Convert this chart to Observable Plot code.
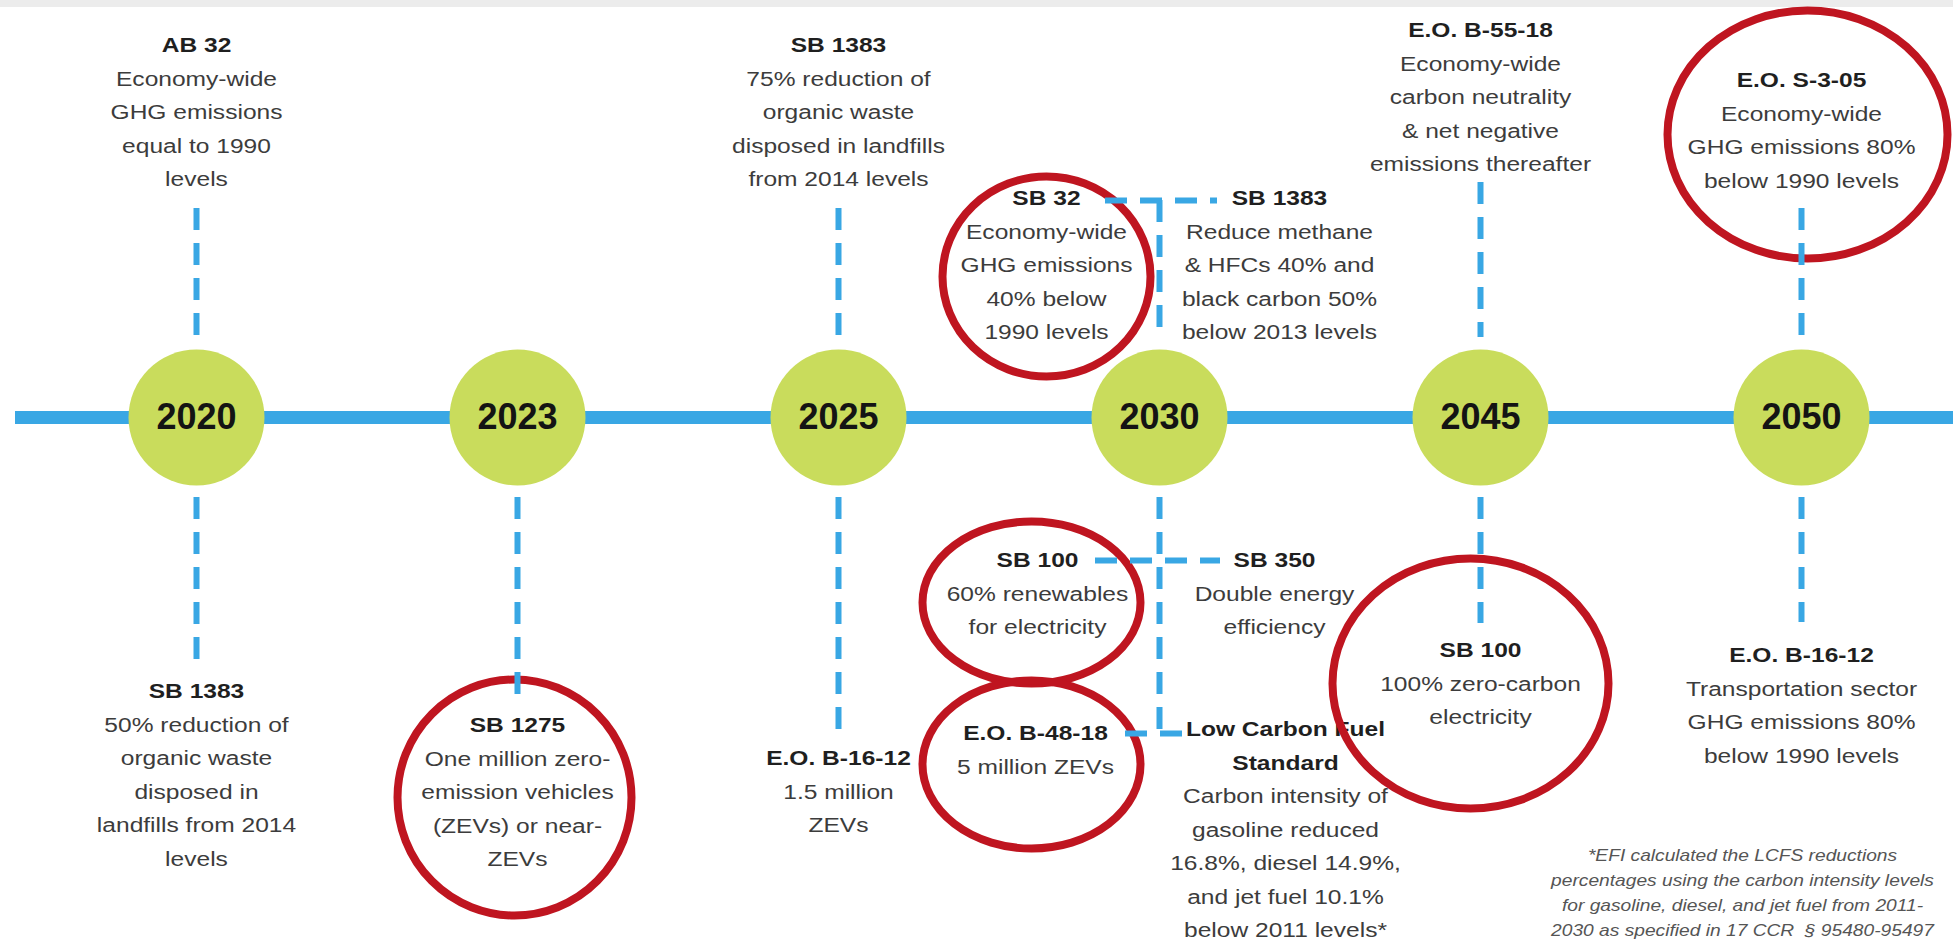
<!DOCTYPE html>
<html>
<head>
<meta charset="utf-8">
<script src="https://cdn.jsdelivr.net/npm/d3@7"></script>
<script src="https://cdn.jsdelivr.net/npm/@observablehq/plot@0.6"></script>
<style>
  html, body { margin: 0; padding: 0; background: #ffffff; }
  #chart { width: 1953px; height: 943px; overflow: hidden; }
</style>
</head>
<body>
<div id="chart"></div>
<script>
// ---------------- DATA ----------------
const years = ["2020", "2023", "2025", "2030", "2045", "2050"];

const policyYear = ["2020", "2020", "2023", "2025", "2025", "2030", "2030", "2030", "2030", "2030", "2030", "2045", "2045", "2050", "2050"];

const policyName = [
  "AB 32", "SB 1383", "SB 1275", "SB 1383", "E.O. B-16-12",
  "SB 32", "SB 1383", "SB 100", "SB 350", "E.O. B-48-18",
  "Low Carbon Fuel\nStandard", "E.O. B-55-18", "SB 100", "E.O. S-3-05", "E.O. B-16-12"
];

const policyGoal = [
  "Economy-wide\nGHG emissions\nequal to 1990\nlevels",
  "50% reduction of\norganic waste\ndisposed in\nlandfills from 2014\nlevels",
  "One million zero-\nemission vehicles\n(ZEVs) or near-\nZEVs",
  "75% reduction of\norganic waste\ndisposed in landfills\nfrom 2014 levels",
  "1.5 million\nZEVs",
  "Economy-wide\nGHG emissions\n40% below\n1990 levels",
  "Reduce methane\n& HFCs 40% and\nblack carbon 50%\nbelow 2013 levels",
  "60% renewables\nfor electricity",
  "Double energy\nefficiency",
  "5 million ZEVs",
  "Carbon intensity of\ngasoline reduced\n16.8%, diesel 14.9%,\nand jet fuel 10.1%\nbelow 2011 levels*",
  "Economy-wide\ncarbon neutrality\n& net negative\nemissions thereafter",
  "100% zero-carbon\nelectricity",
  "Economy-wide\nGHG emissions 80%\nbelow 1990 levels",
  "Transportation sector\nGHG emissions 80%\nbelow 1990 levels"
];

// policies circled in red in the original
const highlighted = [false, false, true, false, false, true, false, true, false, true, false, false, true, true, false];

const footnoteLines = [
  "*EFI calculated the LCFS reductions",
  "percentages using the carbon intensity levels",
  "for gasoline, diesel, and jet fuel from 2011-",
  "2030 as specified in 17 CCR  \u00a7 95480-95497"
];

// ---------------- LAYOUT (pixels, kept apart from the data) ----------------
const W = 1953, H = 943;
const X0 = 196, SLOT = 321;          // centre of first year, spacing between years
const LINE_Y = 417;                  // timeline
const STEP = 33.5;                   // text line spacing
const FONT = "'Liberation Sans', Arial, Helvetica, sans-serif";
const BLUE = "#39a7e4", GREEN = "#c9dc5c", RED = "#bf1520";
const STRETCH = 1.17, FOOT_STRETCH = 1.2;

// per policy: horizontal offset from the year centre, y of first line, stem [y1,y2]
const place = [
  {dx: 0,    y: 45,  stem: [208, 337]},
  {dx: 0,    y: 691, stem: [497, 660]},
  {dx: 0,    y: 725, stem: [497, 695]},
  {dx: 0,    y: 45,  stem: [208, 337]},
  {dx: 0,    y: 758, stem: [497, 737]},
  {dx: -113, y: 198, stem: null},
  {dx: 120,  y: 198, stem: null},
  {dx: -122, y: 560, stem: null},
  {dx: 115,  y: 560, stem: null},
  {dx: -124, y: 733, stem: null},
  {dx: 126,  y: 729, stem: null},
  {dx: 0,    y: 30,  stem: [182, 337]},
  {dx: 0,    y: 650, stem: [497, 623]},
  {dx: 0,    y: 80,  stem: [208, 337]},
  {dx: 0,    y: 655, stem: [497, 622]}
];
// red ellipses for highlighted policies
const ringPlace = {
  2:  {dx: -3,   cy: 797, rx: 117, ry: 118},
  5:  {dx: -113, cy: 276, rx: 104, ry: 100},
  7:  {dx: -128, cy: 602, rx: 109, ry: 81},
  9:  {dx: -128, cy: 764, rx: 109, ry: 84},
  12: {dx: -10,  cy: 683, rx: 138, ry: 125},
  13: {dx: 6,    cy: 134, rx: 140, ry: 124}
};
// extra connectors around 2030
const hub2030 = {
  vertical: [[200, 337], [497, 733]],
  horizontal: [{y: 200, dx1: -54, dx2: 58}, {y: 560, dx1: -64, dx2: 61}, {y: 733, dx1: -34, dx2: 36}]
};
const footPlace = {x: 1742, y: 855, step: 25};

// ---------------- BUILD TABLES ----------------
const slot = (year, dx = 0) => years.indexOf(year) + dx / SLOT;

const titleRows = [], bodyRows = [], stems = [], hrules = [], rings = [];
policyName.forEach((name, i) => {
  const p = place[i];
  const x = slot(policyYear[i], p.dx);
  const tl = name.split("\n");
  const bl = policyGoal[i].split("\n");
  tl.forEach((t, k) => titleRows.push({x, y: p.y + k * STEP, text: t}));
  bl.forEach((t, k) => bodyRows.push({x, y: p.y + (tl.length + k) * STEP, text: t}));
  if (p.stem) stems.push({x: slot(policyYear[i]), y1: p.stem[0], y2: p.stem[1]});
  if (highlighted[i]) {
    const r = ringPlace[i];
    rings.push({x: slot(policyYear[i], r.dx), y: r.cy, rx: r.rx, ry: r.ry});
  }
});
hub2030.vertical.forEach(v => stems.push({x: slot("2030"), y1: v[0], y2: v[1]}));
hub2030.horizontal.forEach(h => hrules.push({y: h.y, x1: slot("2030", h.dx1), x2: slot("2030", h.dx2)}));
const footRows = footnoteLines.map((t, k) => ({x: (footPlace.x - X0) / SLOT, y: footPlace.y + k * footPlace.step, text: t}));

const R0 = 50; // base radius of ring dots before stretching into ellipses

const chart = Plot.plot({
  width: W,
  height: H,
  margin: 0,
  x: {type: "linear", domain: [0, 5], range: [X0, X0 + 5 * SLOT], axis: null},
  y: {type: "linear", domain: [0, H], range: [0, H], axis: null},
  style: {background: "#ffffff", fontFamily: FONT},
  marks: [
    Plot.ruleY([3], {stroke: "#ececec", strokeWidth: 7}),
    Plot.ruleY([LINE_Y], {stroke: BLUE, strokeWidth: 13, insetLeft: 15}),
    Plot.dot(years, {x: (d, i) => i, y: () => LINE_Y, r: 68, fill: GREEN, stroke: "none"}),
    Plot.text(years, {x: (d, i) => i, y: () => LINE_Y, text: d => d, fontSize: 36, fontWeight: "bold", fill: "#141414"}),
    Plot.text(titleRows, {x: "x", y: "y", text: "text", fontSize: 21, fontWeight: "bold", fill: "#1f1f1f", ariaDescription: "stretch-title"}),
    Plot.text(bodyRows, {x: "x", y: "y", text: "text", fontSize: 21, fill: "#3c3c3c", ariaDescription: "stretch-body"}),
    Plot.text(footRows, {x: "x", y: "y", text: "text", fontSize: 16, fontStyle: "italic", fill: "#555555", ariaDescription: "stretch-foot"}),
    Plot.dot(rings, {x: "x", y: "y", r: R0, fill: "none", stroke: RED, strokeWidth: 8, ariaDescription: "ring"}),
    Plot.ruleX(stems, {x: "x", y1: "y1", y2: "y2", stroke: BLUE, strokeWidth: 6, strokeDasharray: "22,13"}),
    Plot.ruleY(hrules, {y: "y", x1: "x1", x2: "x2", stroke: BLUE, strokeWidth: 6, strokeDasharray: "22,13"})
  ]
});

// locate a mark group: by aria-description, else by type order
function markGroup(desc, type, nth) {
  let g = chart.querySelector(`g[aria-description="${desc}"]`);
  if (!g) {
    const all = chart.querySelectorAll(`g[aria-label="${type}"]`);
    g = all[nth] || null;
  }
  return g;
}

// stretch text horizontally (the source artwork's lettering is wide)
function stretch(g, s) {
  if (!g) return;
  g.querySelectorAll("text").forEach(t => {
    const tr = t.getAttribute("transform");
    if (tr) t.setAttribute("transform", tr + ` scale(${s},1)`);
    else {
      const x = +t.getAttribute("x") || 0, y = +t.getAttribute("y") || 0;
      t.removeAttribute("x"); t.removeAttribute("y");
      t.setAttribute("transform", `translate(${x},${y}) scale(${s},1)`);
    }
  });
}
stretch(markGroup("stretch-title", "text", 1), STRETCH);
stretch(markGroup("stretch-body", "text", 2), STRETCH);
stretch(markGroup("stretch-foot", "text", 3), FOOT_STRETCH);

// turn ring dots into ellipses
const ringG = markGroup("ring", "dot", 1);
if (ringG) {
  ringG.querySelectorAll("circle").forEach((c, k) => {
    const e = rings[k];
    let cx = c.getAttribute("cx"), cy = c.getAttribute("cy");
    let pre = c.getAttribute("transform") || "";
    if (cx === null) {
      const m = /translate\(\s*([-\d.e]+)[ ,]+([-\d.e]+)/.exec(pre);
      cx = m ? +m[1] : 0; cy = m ? +m[2] : 0;
      c.setAttribute("transform", `translate(${cx},${cy}) scale(${e.rx / R0},${e.ry / R0})`);
    } else {
      cx = +cx; cy = +cy;
      c.setAttribute("transform", `translate(${cx},${cy}) scale(${e.rx / R0},${e.ry / R0}) translate(${-cx},${-cy})`);
    }
    c.setAttribute("vector-effect", "non-scaling-stroke");
  });
}

document.getElementById("chart").appendChild(chart);
</script>
</body>
</html>
